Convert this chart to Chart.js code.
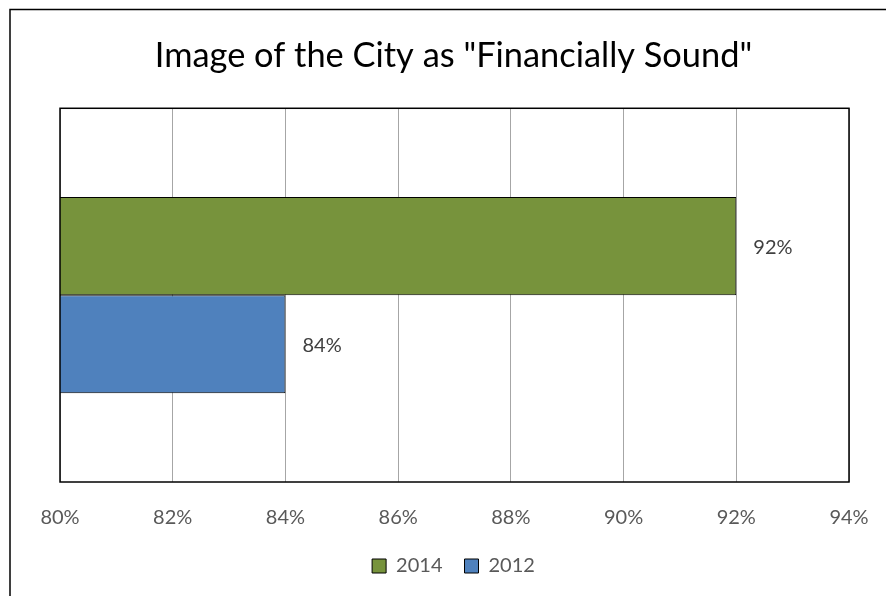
<!DOCTYPE html>
<html>
<head>
<meta charset="utf-8">
<script src="https://cdn.jsdelivr.net/npm/chart.js@4"></script>
<style>
html,body{margin:0;padding:0;background:#fff;}
#wrap{width:886px;height:596px;position:relative;}
</style>
</head>
<body>
<div id="wrap"><canvas id="c" width="886" height="596"></canvas></div>
<script>
const categories = [""];
const seriesNames = ["2014", "2012"];
const values2014 = [92];
const values2012 = [84];
const tickMin = 80, tickMax = 94, tickStep = 2;
const titleText = 'Image of the City as "Financially Sound"';

const FONT = "Lato, 'Open Sans', sans-serif";

const framePlugin = {
  id: 'frame',
  beforeDraw(chart) {
    const ctx = chart.ctx;
    ctx.save();
    ctx.fillStyle = '#fff';
    ctx.fillRect(0, 0, chart.width, chart.height);
    ctx.strokeStyle = '#000';
    ctx.lineWidth = 1.5;
    ctx.strokeRect(10, 9.5, chart.width + 20, chart.height + 20);
    ctx.restore();
  },
  afterDraw(chart) {
    const a = chart.chartArea;
    const ctx = chart.ctx;
    ctx.save();
    ctx.strokeStyle = '#000';
    ctx.lineWidth = 1.5;
    ctx.strokeRect(a.left, a.top, a.right - a.left, a.bottom - a.top);
    ctx.restore();
  }
};

const labelPlugin = {
  id: 'barLabels',
  afterDatasetsDraw(chart) {
    const ctx = chart.ctx;
    ctx.save();
    ctx.font = "20px " + FONT;
    ctx.fillStyle = '#404040';
    ctx.textAlign = 'left';
    ctx.textBaseline = 'middle';
    chart.data.datasets.forEach((ds, i) => {
      const meta = chart.getDatasetMeta(i);
      meta.data.forEach((bar, j) => {
        ctx.fillText(ds.data[j] + '%', bar.x + 17, bar.y + 1);
      });
    });
    ctx.restore();
  }
};

new Chart(document.getElementById('c'), {
  type: 'bar',
  data: {
    labels: categories,
    datasets: [
      { label: seriesNames[0], data: values2014, backgroundColor: '#77933C', borderColor: '#000', borderWidth: 1, borderSkipped: false, categoryPercentage: 0.525, barPercentage: 1 },
      { label: seriesNames[1], data: values2012, backgroundColor: '#4F81BD', borderColor: '#000', borderWidth: 1, borderSkipped: false, categoryPercentage: 0.525, barPercentage: 1 }
    ]
  },
  options: {
    indexAxis: 'y',
    responsive: false,
    animation: false,
    layout: { padding: { left: 34, right: 13, top: 17, bottom: 10 } },
    plugins: {
      title: { display: true, text: titleText, color: '#000', font: { family: FONT, size: 34.4, weight: 'normal' }, padding: { top: 18, bottom: 32 } },
      legend: {
        position: 'bottom',
        labels: { color: '#595959', font: { family: FONT, size: 20 }, boxWidth: 14, boxHeight: 14, padding: 22 }
      },
      tooltip: { enabled: false }
    },
    scales: {
      x: {
        min: tickMin, max: tickMax,
        ticks: { stepSize: tickStep, color: '#595959', font: { family: FONT, size: 20 }, padding: 24, callback: v => v + '%' },
        grid: { color: '#a6a6a6', lineWidth: 1, drawTicks: false },
        border: { display: false },
        afterFit: s => { s.height -= 20; s.paddingRight = 37; }
      },
      y: {
        display: true,
        ticks: { display: false },
        grid: { display: false, drawTicks: false },
        border: { display: false },
        afterFit: s => { s.width = 26; }
      }
    }
  },
  plugins: [framePlugin, labelPlugin]
});
</script>
</body>
</html>
